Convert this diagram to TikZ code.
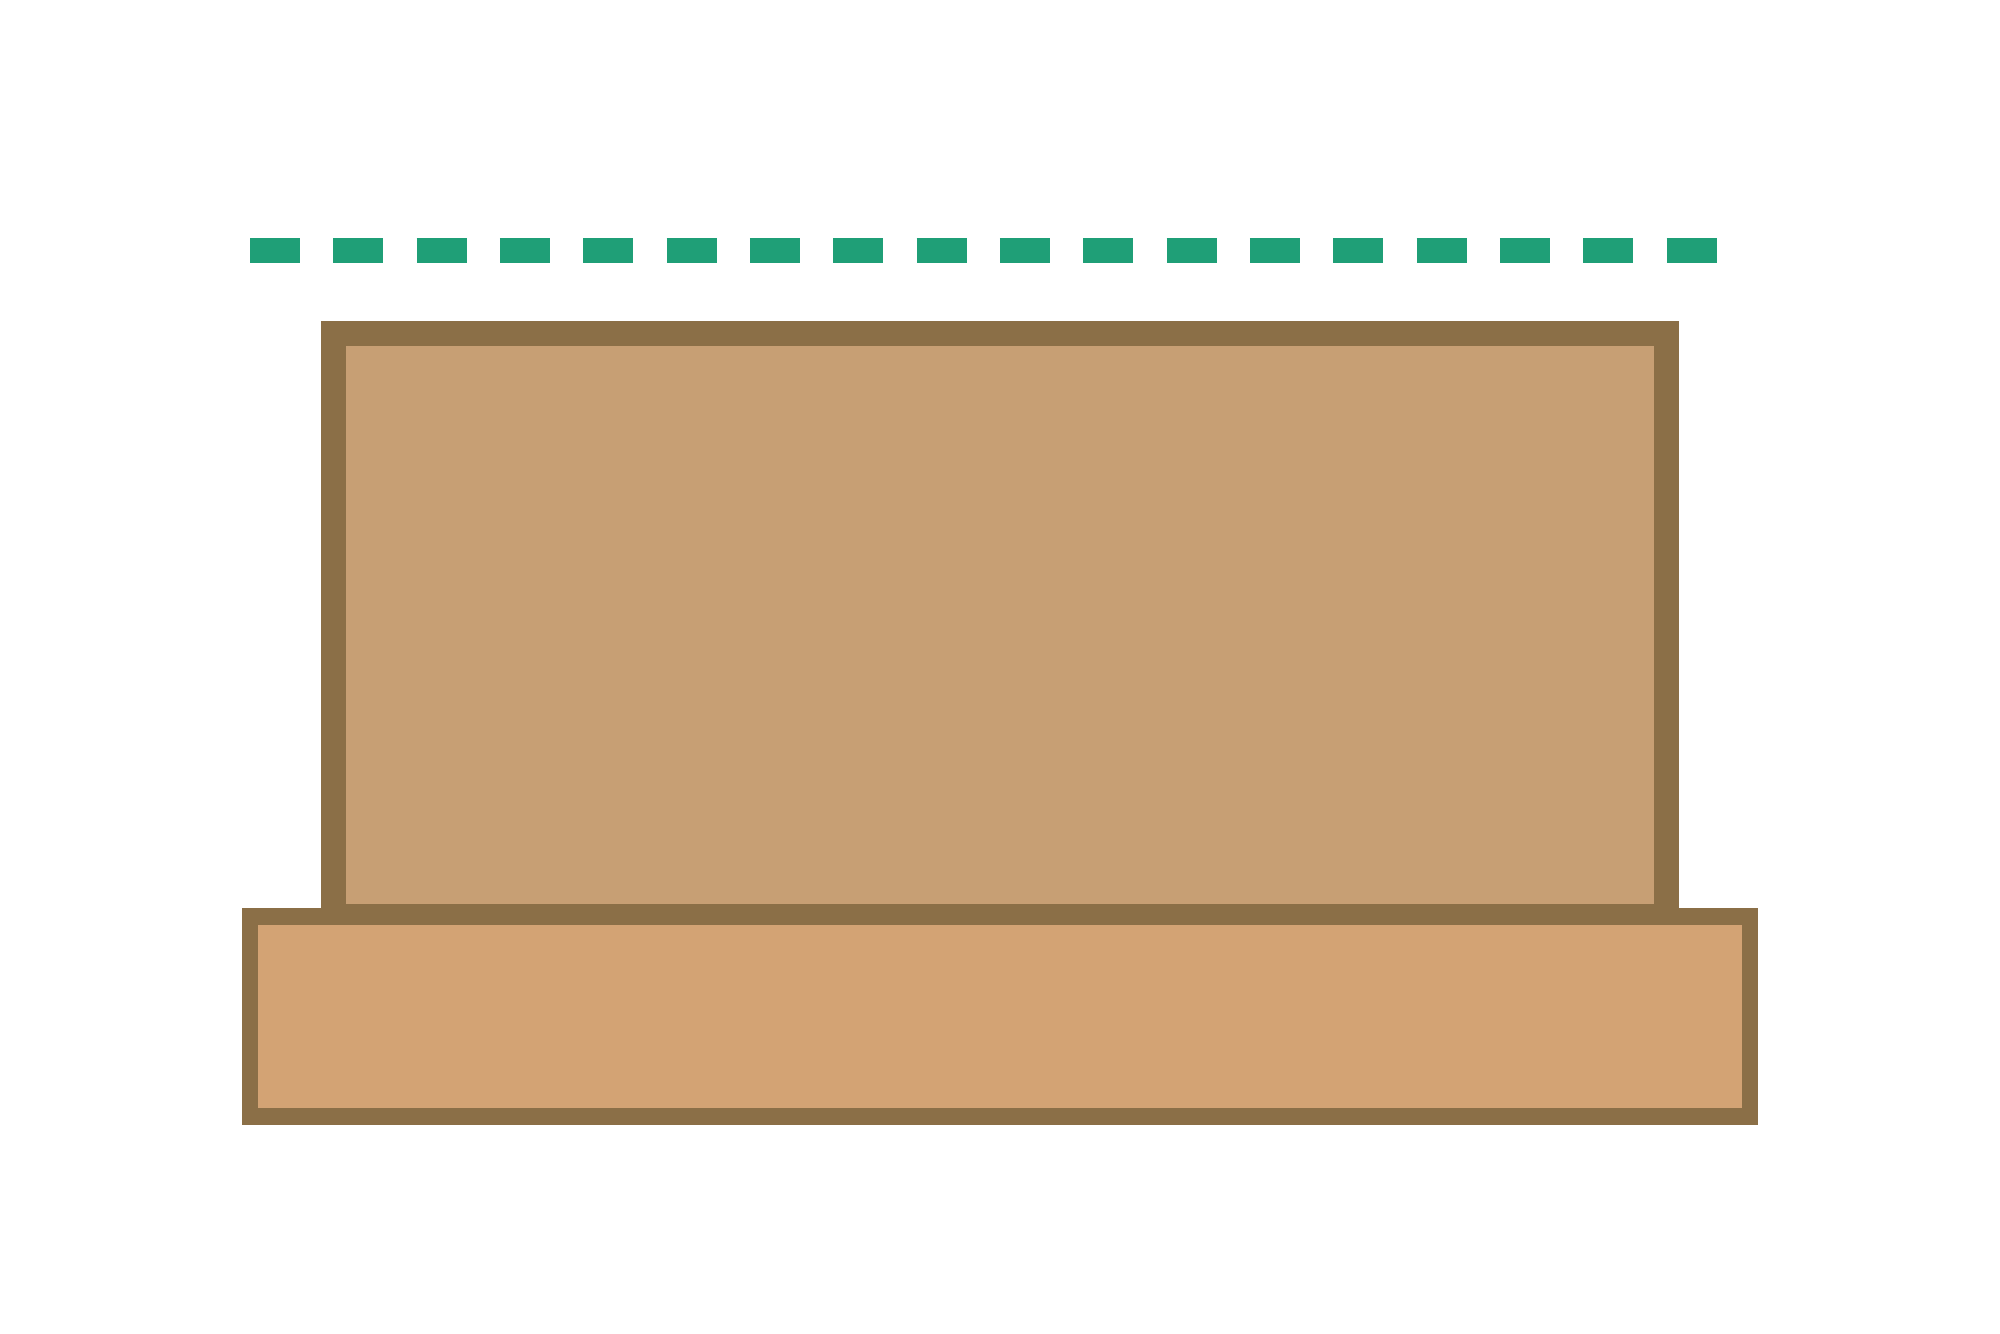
\documentclass[tikz,border=0pt]{standalone}
\definecolor{dashgreen}{HTML}{1F9F77}
\definecolor{woodline}{HTML}{8B6F47}
\definecolor{topfill}{HTML}{C79F74}
\definecolor{basefill}{HTML}{D3A374}
\begin{document}
\begin{tikzpicture}[x=0.05cm,y=-0.05cm,
  topbox/.style={draw=woodline,fill=topfill,line width=0.75cm},
  basebox/.style={draw=woodline,fill=basefill,line width=0.5cm},
  level/.style={draw=dashgreen,line width=0.75cm,dash pattern=on 1.5cm off 1cm}]
\useasboundingbox (0,0) rectangle (1200,800);
\coordinate (la) at (150,150);
\coordinate (lb) at (1040,150);
\draw[level] (la) -- (lb);
\draw[topbox] (200,200) rectangle (1000,550);
\draw[basebox] (150,550) rectangle (1050,670);
\end{tikzpicture}
\end{document}
